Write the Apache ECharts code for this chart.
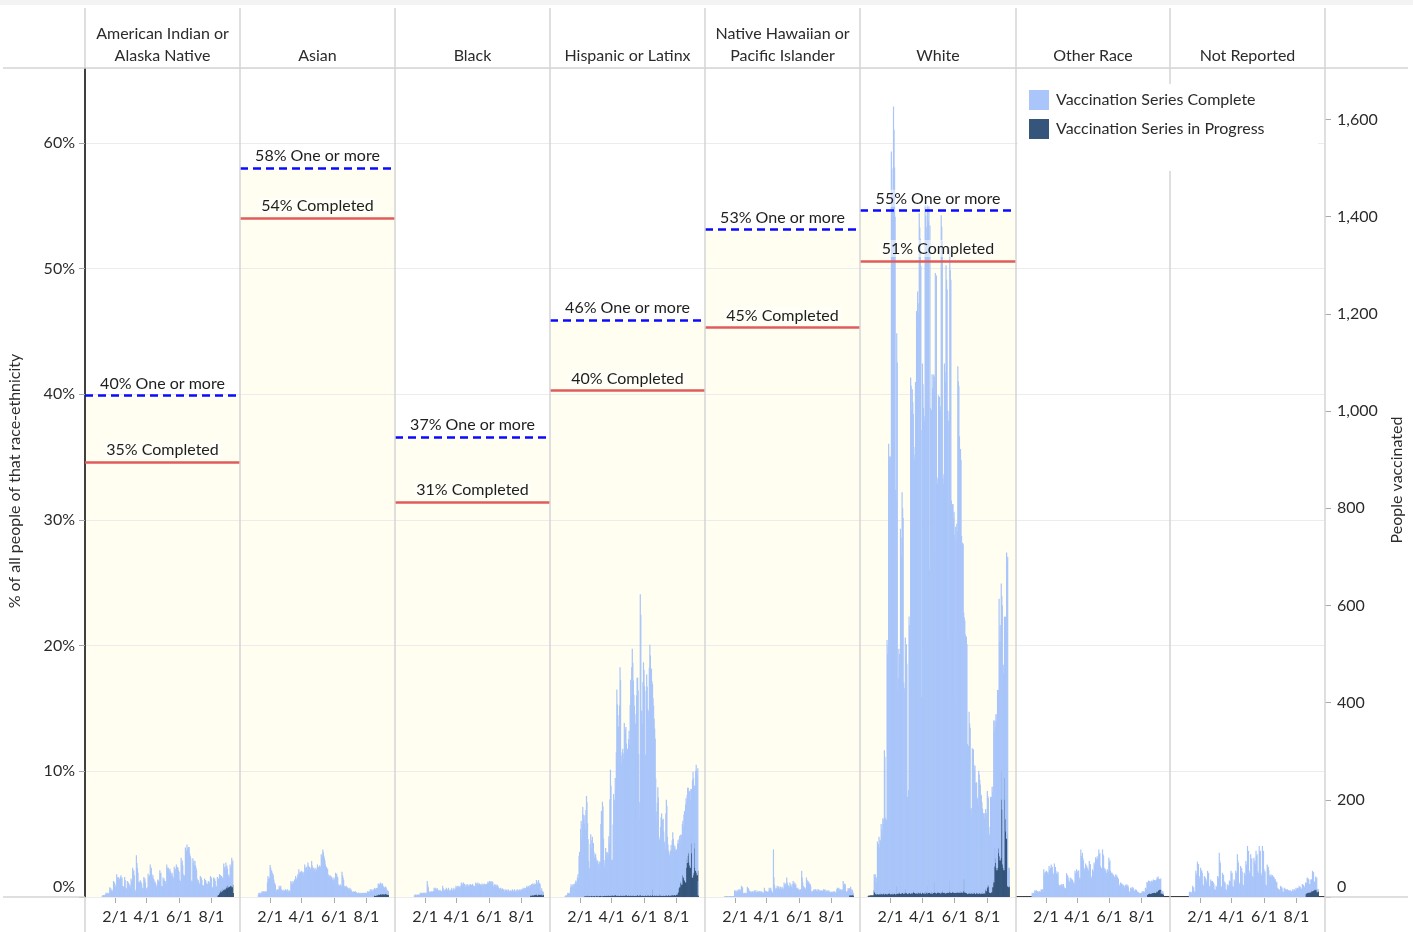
<!DOCTYPE html>
<html><head><meta charset="utf-8">
<script src="https://cdn.jsdelivr.net/npm/echarts@6/dist/echarts.min.js"></script>
<style>html,body{margin:0;padding:0;background:#fff}#c{width:1413px;height:932px}</style>
</head><body><div id="c"></div>
<script>
// ---------- categories, reference values, ticks ----------
const groups = ['American Indian or\nAlaska Native','Asian','Black','Hispanic or Latinx','Native Hawaiian or\nPacific Islander','White','Other Race','Not Reported'];
const oneOrMore = [39.9, 58.0, 36.6, 45.9, 53.1, 54.6, null, null];
const completed = [34.6, 54.0, 31.4, 40.3, 45.3, 50.6, null, null];
const tickDates = ['2021-02-01','2021-04-01','2021-06-01','2021-08-01'];
const tickLabels = ['2/1','4/1','6/1','8/1'];
const axisStart = '2020-12-07', axisEnd = '2021-09-23';

// ---------- daily people vaccinated ----------
const aianCompleteStart = '2021-01-08';
const aianComplete = [2,4,3,4,3,4,6,9,5,8,9,7,6,9,20,15,18,12,15,10,14,33,28,30,25,20,22,47,40,35,41,35,38,30,41,45,38,40,23,20,22,18,41,35,19,15,18,33,28,30,27,22,25,20,38,32,35,60,50,55,45,12,10,15,86,70,60,50,31,28,30,34,34,30,28,19,15,18,41,35,38,30,19,15,18,20,48,40,45,42,67,55,60,47,40,45,38,36,30,32,28,25,20,22,36,30,34,32,55,48,50,23,20,22,40,35,38,33,33,30,28,67,60,55,60,55,50,58,53,48,45,50,43,40,38,62,55,58,50,67,60,62,60,55,52,36,30,33,81,70,75,65,47,42,45,40,102,90,95,108,100,95,103,103,90,85,80,34,30,32,80,70,75,65,74,65,60,55,38,33,35,30,28,25,43,38,40,35,25,22,24,20,38,33,35,30,28,25,27,33,30,28,31,43,38,40,21,18,20,40,35,38,33,23,20,22,38,30,34,27,38,30,31,30,28,26,22,22,53,42,47,38,51,40,47,33,25,22,21,19,42,37,40,57,50,50,1];
const aianProgressStart = '2021-08-12';
const aianProgress = [3,5,4,6,9,12,14,10,15,12,18,14,16,18,15,17,20,22,18,25,22,20,24,21,25,23,22,24,20,25,8];

const asianCompleteStart = '2021-01-10';
const asianComplete = [5,9,7,9,6,8,9,12,10,11,12,9,12,10,11,12,10,30,43,38,35,40,66,60,55,54,50,48,45,36,30,28,25,16,12,14,16,10,15,23,18,20,23,16,15,12,14,10,15,13,12,16,12,14,10,16,11,12,14,10,12,33,28,30,25,33,30,28,36,32,43,38,35,40,47,42,57,50,45,52,48,54,48,50,52,45,50,67,60,55,62,60,55,71,65,58,62,60,57,52,74,65,60,55,60,55,58,52,60,56,54,67,60,62,58,65,60,63,88,80,85,98,92,85,80,75,67,60,62,55,58,47,42,45,40,44,38,42,40,35,38,33,40,36,34,50,45,48,42,40,26,22,24,20,26,23,21,52,45,40,35,23,20,22,18,23,19,20,19,16,18,15,19,14,16,12,10,11,9,12,10,11,12,9,10,9,7,8,9,6,8,9,7,8,6,9,8,7,9,8,6,9,7,8,9,12,10,11,12,9,16,12,14,16,11,13,15,12,16,12,14,15,13,16,14,23,20,22,18,23,21,19,20,22,18,15,12,14,13,15,12,10,8,9,7];
const asianProgressStart = '2021-08-15';
const asianProgress = [3,3,4,2,3,5,3,4,5,6,4,5,7,6,5,8,6,5,6,7,5,8,6,7,5,6,4,5];

const blackCompleteStart = '2021-01-12';
const blackComplete = [3,5,4,5,3,4,5,4,5,3,5,9,7,8,9,6,8,9,7,9,8,6,9,8,33,25,20,12,10,11,9,12,10,12,11,9,12,19,15,17,19,14,16,18,15,12,14,11,15,13,12,12,10,23,18,15,12,14,16,14,19,15,13,16,19,14,12,15,12,15,19,14,12,16,19,13,15,17,23,20,18,22,23,19,21,20,23,18,30,26,24,28,30,25,27,23,20,26,22,24,26,21,23,25,22,27,23,25,22,27,24,23,20,22,23,30,26,28,25,30,26,24,28,26,25,26,23,28,25,22,26,28,24,26,23,27,25,28,32,28,30,33,29,31,33,28,30,32,23,20,26,22,24,26,21,23,25,22,19,16,18,15,19,14,16,18,15,16,12,10,16,14,12,15,13,11,16,14,12,10,13,14,12,10,16,14,11,12,16,13,10,12,14,16,11,12,15,13,16,12,14,16,16,14,19,15,17,19,16,18,19,23,20,18,22,23,19,21,20,18,22,20,24,20,22,24,19,21,23,29,25,23,27,29,22,24,20,9,8,12,9,7,6];
const blackProgressStart = '2021-08-17';
const blackProgress = [3,4,2,5,3,4,5,3,4,6,5,4,6,5,3,5,6,4,5,6,4,5,6,3,5,4];

const hispCompleteStart = '2021-01-04';
const hispComplete = [2,3,3,3,5,9,7,8,6,9,20,26,22,18,24,27,20,25,27,30,34,28,32,40,47,38,85,93,70,140,157,120,150,185,170,160,148,165,138,178,205,193,148,118,72,48,58,108,126,98,113,122,103,108,91,78,83,88,79,68,73,72,58,66,70,63,68,148,174,158,194,183,118,72,58,68,98,83,88,89,78,83,122,108,197,259,227,72,58,72,147,209,187,197,240,217,295,425,392,372,348,322,392,470,442,289,272,289,303,282,292,356,330,342,334,312,292,303,280,322,338,312,392,442,410,470,507,480,442,411,392,372,354,332,412,430,447,422,292,156,192,619,570,382,380,352,440,480,462,432,262,290,410,456,430,382,380,362,470,516,492,450,468,440,422,406,392,362,344,322,242,173,150,192,222,202,122,111,102,140,162,169,150,157,157,132,112,107,92,170,196,182,122,105,92,87,83,77,92,101,92,112,129,117,102,97,101,92,93,92,86,102,107,92,97,106,85,95,100,95,105,103,105,116,142,132,160,143,117,140,140,130,125,147,153,140,96,112,120,200,213,195,129,117,155,206,218,210,205,211,30];
const hispProgressStart = '2021-02-09';
const hispProgress = [2,3,2,1,3,2,4,1,2,3,2,1,3,2,4,2,1,3,2,2,3,1,2,4,2,3,1,2,3,2,4,2,3,1,2,3,2,4,3,2,3,2,4,3,2,5,3,2,4,3,2,4,3,5,2,3,4,3,5,4,3,2,4,2,3,5,2,3,4,2,3,9,2,3,4,2,5,3,16,4,3,2,12,3,4,2,3,5,2,3,4,2,3,5,2,4,3,2,3,21,4,3,2,5,3,4,11,2,3,4,2,3,5,2,4,3,14,2,3,5,3,4,2,3,5,3,2,4,16,3,2,5,3,4,2,3,6,2,4,3,2,7,3,4,2,3,5,2,4,3,2,3,5,2,4,6,2,3,4,5,3,2,4,6,3,5,4,3,6,4,4,3,5,6,4,8,10,18,23,20,30,33,28,25,45,54,40,54,35,33,30,60,78,70,85,95,90,71,65,60,126,110,90,40,45,50,100,112,60,54,54,50,45,54,3];

const nhpiCompleteStart = '2021-01-12';
const nhpiComplete = [1,2,1,1,2,1,2,1,1,2,1,2,2,1,2,1,2,2,1,14,10,12,14,9,11,13,16,12,14,16,11,15,23,18,20,8,6,9,7,8,9,6,8,21,16,18,15,12,9,11,12,8,10,12,11,9,14,10,12,14,9,10,11,13,10,9,12,12,9,11,12,8,10,9,7,19,14,12,10,12,9,11,10,12,19,15,17,19,14,11,9,10,98,40,25,19,15,17,18,23,18,20,22,17,16,21,18,15,21,17,19,15,30,25,20,28,22,40,30,25,23,18,20,30,25,19,22,27,18,33,28,26,30,24,26,19,15,17,19,14,16,13,15,16,12,54,40,30,23,18,20,19,15,17,40,35,30,33,28,30,25,27,22,12,10,11,12,14,16,12,15,16,13,12,16,10,14,16,11,14,12,13,14,11,13,12,16,11,14,16,10,13,11,14,10,12,14,11,11,9,10,11,8,10,12,9,11,12,8,10,9,16,19,14,17,19,15,12,16,11,14,16,12,33,25,28,22,26,12,10,11,12,18,16,15,14,13,16,12,10,11,6,4];
const nhpiProgressStart = '2021-09-03';
const nhpiProgress = [3,4,3,5,4,3,4,5,3];

const whiteCompleteStart = '2021-01-02';
const whiteComplete = [33,30,39,34,25,33,108,83,104,118,95,113,108,144,133,123,156,142,153,297,282,156,144,153,524,493,513,925,885,900,900,873,1527,1493,1443,1393,1620,1573,1493,1393,833,813,1138,1092,420,441,504,490,472,752,729,693,824,792,768,435,410,423,517,491,512,469,200,190,213,568,552,528,1063,1042,993,1038,1009,983,911,892,900,1053,1030,1197,1171,1236,1214,1190,1400,1369,1343,1291,405,951,1089,1044,1000,982,970,1419,1390,1370,1343,1417,1392,1383,1412,664,1370,1000,980,991,1070,1038,1031,1067,1040,1052,1276,695,1272,855,839,852,1022,971,1021,998,993,1393,1371,1339,846,842,860,1089,1068,1053,1289,1262,1240,992,517,972,988,1303,1280,1261,808,792,798,789,771,782,737,394,753,720,760,741,1082,1052,1029,938,536,910,890,732,712,720,690,573,538,559,531,522,528,510,309,290,304,370,349,342,171,160,174,298,282,294,265,252,259,229,224,226,198,192,184,252,242,234,222,205,201,188,172,166,163,165,155,153,166,155,155,193,188,178,122,117,122,198,170,196,202,195,191,333,277,262,270,306,300,321,366,288,326,524,441,485,445,386,420,420,411,400,423,332,360,417,405,589,560,678,38,35,38];
const whiteProgressStart = '2020-12-22';
const whiteProgress = [2,3,2,3,2,4,3,2,3,4,3,14,10,8,6,5,7,6,8,5,6,7,5,8,6,7,5,6,8,7,5,6,7,8,6,5,7,6,8,15,7,6,5,7,6,8,5,7,6,8,7,5,6,22,8,6,9,7,10,8,6,11,7,9,8,12,6,10,7,17,9,8,11,6,10,7,9,8,12,6,10,8,7,9,11,15,8,10,7,12,9,6,10,8,11,7,9,12,8,6,10,9,11,7,8,10,6,12,9,11,7,22,8,10,9,12,7,8,11,6,10,9,8,31,10,8,12,7,9,11,8,10,29,8,12,7,10,9,11,15,8,10,9,12,7,11,8,10,9,12,8,11,34,10,9,8,12,10,20,9,11,8,10,9,12,8,11,10,9,22,10,8,12,9,11,10,9,36,12,37,10,9,11,8,10,6,9,7,11,8,6,10,7,9,8,6,10,7,9,11,6,8,10,7,9,6,8,10,7,9,6,8,7,10,6,9,8,7,18,15,12,18,25,20,25,22,10,8,8,25,10,25,20,36,30,63,101,80,70,60,55,60,122,100,90,84,75,80,259,200,180,67,60,55,245,200,160,135,120,130,22,22,20,22];

const otherCompleteStart = '2021-01-06';
const otherComplete = [9,6,8,9,7,14,11,13,14,10,12,12,10,11,12,9,11,16,13,15,16,12,57,45,50,52,48,54,48,50,52,46,64,55,58,60,67,60,62,50,45,48,69,60,62,54,48,50,45,52,26,22,24,20,25,23,27,20,25,27,22,19,16,18,15,49,42,45,40,34,30,32,40,35,38,33,36,33,28,30,27,54,48,50,57,50,53,48,55,40,35,38,98,85,80,91,80,75,60,55,58,69,60,65,58,60,55,52,74,65,68,43,38,40,57,50,53,71,65,68,82,75,78,84,76,80,98,88,90,64,58,60,55,98,88,85,60,55,58,54,48,50,57,50,53,81,72,75,54,48,50,50,45,47,45,40,42,38,47,42,44,41,36,38,26,22,24,30,26,28,27,23,25,23,20,21,25,22,23,26,22,24,20,12,10,11,19,16,17,21,18,19,14,12,13,16,13,15,12,10,11,9,7,8,9,6,8,9,12,10,11,12,9,11,19,16,17,27,23,25,28,24,26,24,20,22,27,22,24,28,24,26,22,26,22,24,30,26,28,24,20,22,20,23,5,4,6,4,3];
const otherProgressStart = '2021-08-11';
const otherProgress = [4,5,6,6,8,7,8,6,9,7,9,8,8,10,9,12,8,10,12,10,12,14,14,16,15,16,15,7,8,6,8,5];

const notRepCompleteStart = '2021-01-12';
const notRepComplete = [11,8,10,11,7,9,23,18,20,12,10,11,54,45,48,73,65,68,43,38,40,60,52,55,50,26,22,24,43,38,40,36,30,33,54,48,50,23,20,21,36,31,33,33,28,30,27,16,13,15,23,20,21,43,38,40,91,75,70,23,20,21,50,44,46,33,28,30,16,13,15,26,22,24,20,34,30,32,54,48,50,23,20,21,36,31,33,54,48,50,88,75,70,30,26,28,64,56,60,52,26,22,24,50,44,46,74,65,68,105,92,95,54,48,50,88,78,80,43,38,40,81,72,75,68,95,85,88,54,48,50,105,92,95,50,44,46,105,92,95,57,50,53,26,22,24,67,58,62,55,45,40,42,47,42,44,45,40,42,40,35,37,33,29,31,19,16,17,16,13,15,23,19,21,18,12,10,11,19,16,17,16,13,15,16,12,14,14,11,13,14,10,12,12,16,11,14,16,10,13,19,16,17,19,15,18,23,19,21,19,16,17,27,23,25,23,19,21,24,20,22,32,27,29,25,18,15,17,26,22,24,42,36,38,18,15,17,26,22,24,6,5,4];
const notRepProgressStart = '2021-08-18';
const notRepProgress = [6,8,7,8,10,9,11,9,12,10,10,14,12,12,15,13,14,16,15,16,14,16,10,11,12];

// ---------- build ----------
const FONT = 'Lato, "Noto Sans", sans-serif';
const FS = 16;
const COMP = '#a9c5f9', PROG = '#36557b';
const edges = [85, 240, 395, 550, 705, 860, 1016, 1170, 1325];
const TOP = 68, BOTTOM = 897;

const dates = [];
for (let t = Date.parse(axisStart); t <= Date.parse(axisEnd); t += 864e5) dates.push(new Date(t).toISOString().slice(0, 10));
const tickIdx = tickDates.map(d => dates.indexOf(d));
function place(start, values) {
  const out = dates.map(() => null);
  const off = dates.indexOf(start);
  values.forEach((v, k) => { out[off + k] = v; });
  return out;
}
const panels = [
  [aianCompleteStart, aianComplete, aianProgressStart, aianProgress],
  [asianCompleteStart, asianComplete, asianProgressStart, asianProgress],
  [blackCompleteStart, blackComplete, blackProgressStart, blackProgress],
  [hispCompleteStart, hispComplete, hispProgressStart, hispProgress],
  [nhpiCompleteStart, nhpiComplete, nhpiProgressStart, nhpiProgress],
  [whiteCompleteStart, whiteComplete, whiteProgressStart, whiteProgress],
  [otherCompleteStart, otherComplete, otherProgressStart, otherProgress],
  [notRepCompleteStart, notRepComplete, notRepProgressStart, notRepProgress]
];

const grid = [], xAxis = [], yAxis = [], series = [];
const lbl = {fontSize: FS, color: '#2b2b2b', fontFamily: FONT};
panels.forEach((p, i) => {
  grid.push({left: edges[i], top: TOP, width: edges[i + 1] - edges[i], height: BOTTOM - TOP, outerBoundsMode: 'none', containLabel: false});
  xAxis.push({
    type: 'category', gridIndex: i, data: dates, boundaryGap: true,
    axisLine: {show: true, lineStyle: {color: '#000', width: 1.5}},
    axisTick: {show: true, alignWithLabel: true, interval: (idx) => tickIdx.includes(idx), length: 6, lineStyle: {color: '#aaa', width: 1}},
    axisLabel: Object.assign({show: true, interval: (idx) => tickIdx.includes(idx), margin: 12,
      formatter: (v) => { const k = tickDates.indexOf(v); return k >= 0 ? tickLabels[k] : ''; }}, lbl),
    splitLine: {show: false}
  });
  yAxis.push({
    type: 'value', gridIndex: i, min: 0, max: 65.95, interval: 10, position: 'left', z: 1.5,
    axisLine: {show: i === 0, lineStyle: {color: '#000', width: 1.5}},
    axisTick: {show: i === 0, length: 6, lineStyle: {color: '#aaa'}},
    axisLabel: Object.assign({show: i === 0, showMaxLabel: false, margin: 10,
      formatter: (v) => v === 0 ? '{lo|0%}' : v + '%',
      rich: {lo: Object.assign({padding: [0, 0, 20, 0]}, lbl)}}, lbl),
    splitLine: {show: true, lineStyle: {color: '#ececec', width: 1}}
  });
  yAxis.push({
    type: 'value', gridIndex: i, min: 0, max: 1706, interval: 200, position: 'right',
    axisLine: {show: false},
    axisTick: {show: i === 7, length: 6, lineStyle: {color: '#aaa'}},
    axisLabel: Object.assign({show: i === 7, showMaxLabel: false, margin: 12,
      formatter: (v) => v === 0 ? '{lo|0}' : v.toLocaleString('en-US'),
      rich: {lo: Object.assign({padding: [0, 0, 20, 0]}, lbl)}}, lbl),
    splitLine: {show: false}
  });
  if (oneOrMore[i] != null) {
    series.push({type: 'line', xAxisIndex: i, yAxisIndex: 2 * i, data: [], silent: true,
      markArea: {silent: true, itemStyle: {color: '#fffef1'}, data: [[{yAxis: 0}, {yAxis: oneOrMore[i]}]]}});
  }
  series.push({name: 'Vaccination Series in Progress', type: 'bar', stack: 's' + i, xAxisIndex: i, yAxisIndex: 2 * i + 1,
    data: place(p[2], p[3]), barWidth: 1.2, itemStyle: {color: PROG}, silent: true});
  series.push({name: 'Vaccination Series Complete', type: 'bar', stack: 's' + i, xAxisIndex: i, yAxisIndex: 2 * i + 1,
    data: place(p[0], p[1]), barWidth: 1.2, itemStyle: {color: COMP}, silent: true});
  if (oneOrMore[i] != null) {
    series.push({type: 'line', xAxisIndex: i, yAxisIndex: 2 * i, data: [], silent: true,
      markLine: {silent: true, symbol: ['none', 'none'], animation: false,
        label: Object.assign({show: true, position: 'insideMiddleTop', distance: 4, backgroundColor: 'rgba(255,255,255,0.5)', padding: [1, 3, 0, 3]}, lbl, {color: '#1e1e1e'}),
        data: [
          {yAxis: oneOrMore[i], lineStyle: {color: '#0a0aff', width: 2.5, type: [8, 5]}, label: {formatter: Math.round(oneOrMore[i]) + '% One or more'}},
          {yAxis: completed[i], lineStyle: {color: '#e05c5c', width: 2.5, type: 'solid'}, label: {formatter: Math.round(completed[i]) + '% Completed'}}
        ]}});
  }
});

const gfx = [];
const tstyle = (text) => ({text, fill: '#2b2b2b', font: FS + 'px ' + FONT, fontSize: FS, fontFamily: FONT});
gfx.push({type: 'rect', shape: {x: 0, y: 0, width: 1413, height: 5}, style: {fill: '#f3f3f3'}, z: 10});
gfx.push({type: 'line', shape: {x1: 3, y1: TOP, x2: 1408, y2: TOP}, style: {stroke: '#d4d4d4', lineWidth: 1.5}, z: 10});
gfx.push({type: 'line', shape: {x1: 3, y1: BOTTOM, x2: edges[0], y2: BOTTOM}, style: {stroke: '#d4d4d4', lineWidth: 1.5}, z: 10});
gfx.push({type: 'line', shape: {x1: edges[8], y1: BOTTOM, x2: 1408, y2: BOTTOM}, style: {stroke: '#d4d4d4', lineWidth: 1.5}, z: 10});
gfx.push({type: 'line', shape: {x1: edges[0], y1: 8, x2: edges[0], y2: TOP}, style: {stroke: '#d4d4d4', lineWidth: 1.5}, z: 10});
gfx.push({type: 'line', shape: {x1: edges[0], y1: BOTTOM, x2: edges[0], y2: 932}, style: {stroke: '#d4d4d4', lineWidth: 1.5}, z: 10});
edges.slice(1).forEach(e => gfx.push({type: 'line', shape: {x1: e, y1: 8, x2: e, y2: 932}, style: {stroke: '#d4d4d4', lineWidth: 1.5}, z: 10}));
gfx.push({type: 'rect', shape: {x: 1018, y: 84, width: 300, height: 87}, style: {fill: '#ffffff'}, z: 20});
groups.forEach((g, i) => gfx.push({type: 'text', x: (edges[i] + edges[i + 1]) / 2, y: 67, z: 10,
  style: Object.assign(tstyle(g), {lineHeight: 22, align: 'center', verticalAlign: 'bottom', textAlign: 'center', textVerticalAlign: 'bottom'})}));
gfx.push({type: 'text', x: 15, y: 481, rotation: Math.PI / 2, z: 10,
  style: Object.assign(tstyle('% of all people of that race-ethnicity'), {align: 'center', verticalAlign: 'middle', textAlign: 'center', textVerticalAlign: 'middle'})});
gfx.push({type: 'text', x: 1397, y: 480, rotation: Math.PI / 2, z: 10,
  style: Object.assign(tstyle('People vaccinated'), {align: 'center', verticalAlign: 'middle', textAlign: 'center', textVerticalAlign: 'middle'})});

const chart = echarts.init(document.getElementById('c'), null, {renderer: 'canvas'});
chart.setOption({
  animation: false,
  backgroundColor: '#ffffff',
  textStyle: {fontFamily: FONT},
  grid, xAxis, yAxis, series,
  legend: {data: ['Vaccination Series Complete', 'Vaccination Series in Progress'], orient: 'vertical', left: 1024, top: 85,
    itemWidth: 20, itemHeight: 20, itemGap: 9, icon: 'rect', selectedMode: false, z: 30,
    textStyle: {fontSize: FS, color: '#2b2b2b', fontFamily: FONT, padding: [0, 0, 0, 2]}},
  graphic: {elements: gfx}
});
</script></body></html>
